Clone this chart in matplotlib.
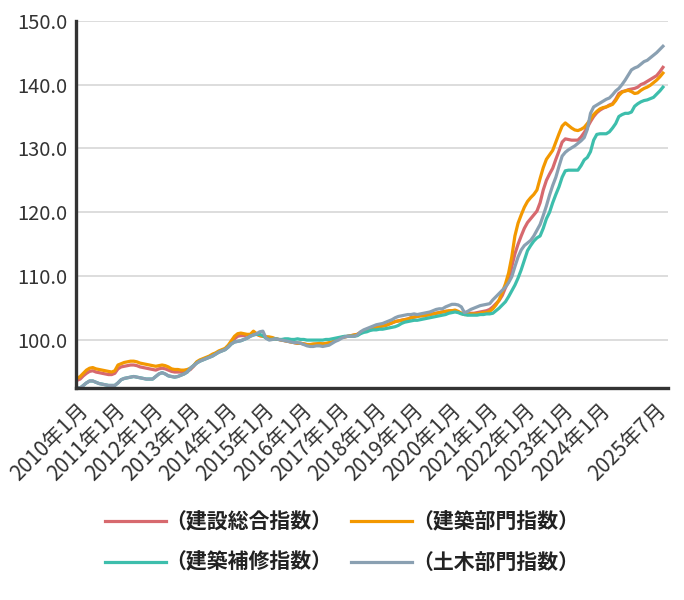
import matplotlib
matplotlib.use("Agg")
import matplotlib.pyplot as plt
from matplotlib.transforms import ScaledTranslation
import numpy as np

plt.rcParams['font.family'] = ['Noto Sans CJK JP', 'DejaVu Sans']

# monthly index values, 2010年1月 .. 2025年7月 (one row per year)
sogo = [  # 建設総合指数
    93.7, 93.9, 94.4, 94.8, 95.1, 95.2, 95.0, 94.9, 94.8, 94.7, 94.6, 94.6,
    94.8, 95.5, 95.8, 95.9, 96.0, 96.1, 96.1, 96.0, 95.8, 95.7, 95.6, 95.5,
    95.4, 95.3, 95.5, 95.6, 95.5, 95.3, 95.1, 95.0, 95.0, 95.0, 95.0, 95.1,
    95.4, 95.9, 96.5, 96.8, 97.0, 97.2, 97.4, 97.7, 97.9, 98.2, 98.4, 98.6,
    99.0, 99.6, 100.2, 100.6, 100.7, 100.7, 100.8, 100.8, 101.1, 100.9, 100.7, 100.6,
    100.5, 100.4, 100.3, 100.2, 100.1, 100.0, 99.9, 99.8, 99.7, 99.6, 99.5, 99.5,
    99.4, 99.3, 99.3, 99.3, 99.4, 99.4, 99.4, 99.4, 99.5, 99.7, 99.9, 100.2,
    100.4, 100.5, 100.6, 100.7, 100.8, 100.9, 101.2, 101.4, 101.5, 101.7, 101.9, 102.0,
    102.1, 102.2, 102.3, 102.5, 102.7, 102.9, 103.0, 103.1, 103.2, 103.3, 103.5, 103.6,
    103.7, 103.8, 103.8, 103.9, 104.0, 104.1, 104.2, 104.3, 104.4, 104.5, 104.5, 104.6,
    104.6, 104.4, 104.2, 104.0, 104.1, 104.2, 104.2, 104.3, 104.4, 104.5, 104.6, 104.8,
    105.2, 105.7, 106.2, 107.0, 108.2, 109.2, 111.5, 113.5, 115.0, 116.3, 117.5, 118.4,
    119.0, 119.6, 120.2, 121.5, 123.5, 125.0, 126.0, 126.9, 128.3, 129.6, 131.0, 131.5,
    131.4, 131.3, 131.3, 131.3, 131.8, 132.5, 133.3, 134.2, 135.0, 135.6, 136.0, 136.3,
    136.5, 136.8, 137.0, 137.7, 138.6, 138.9, 139.0, 139.2, 139.3, 139.4, 139.6, 140.0,
    140.2, 140.5, 140.8, 141.1, 141.4, 142.0, 142.7,
]
kenchiku = [  # 建築部門指数
    94.0, 94.3, 94.8, 95.3, 95.6, 95.7, 95.5, 95.4, 95.3, 95.2, 95.1, 95.0,
    95.2, 96.1, 96.3, 96.5, 96.6, 96.7, 96.7, 96.6, 96.4, 96.3, 96.2, 96.1,
    96.0, 95.9, 96.0, 96.1, 96.0, 95.8, 95.5, 95.4, 95.4, 95.3, 95.3, 95.4,
    95.6, 96.0, 96.6, 96.9, 97.1, 97.3, 97.5, 97.8, 98.0, 98.3, 98.5, 98.7,
    99.2, 99.9, 100.6, 101.0, 101.1, 101.0, 100.9, 100.9, 101.4, 101.0, 100.7, 100.6,
    100.5, 100.5, 100.4, 100.2, 100.1, 100.0, 99.9, 99.8, 99.7, 99.6, 99.5, 99.5,
    99.4, 99.3, 99.3, 99.4, 99.4, 99.5, 99.4, 99.5, 99.6, 99.7, 99.9, 100.2,
    100.4, 100.5, 100.6, 100.7, 100.8, 100.9, 101.2, 101.4, 101.6, 101.8, 101.9, 102.0,
    102.1, 102.2, 102.3, 102.5, 102.7, 102.9, 103.0, 103.1, 103.2, 103.3, 103.5, 103.6,
    103.7, 103.8, 103.8, 103.9, 104.0, 104.1, 104.2, 104.3, 104.4, 104.5, 104.6, 104.6,
    104.7, 104.5, 104.2, 104.0, 104.0, 104.1, 104.1, 104.1, 104.2, 104.3, 104.3, 104.5,
    104.9, 105.5, 106.3, 107.5, 108.8, 110.5, 113.0, 116.3, 118.3, 119.6, 120.8, 121.7,
    122.3, 122.8, 123.5, 125.3, 127.0, 128.3, 129.0, 129.7, 131.0, 132.3, 133.5, 134.0,
    133.6, 133.2, 132.9, 132.8, 133.0, 133.3, 133.9, 134.6, 135.3, 135.8, 136.2, 136.4,
    136.5, 136.7, 136.9, 137.5, 138.3, 138.8, 139.0, 139.1, 138.9, 138.6, 138.7, 139.1,
    139.4, 139.6, 139.9, 140.3, 140.7, 141.2, 141.8,
]
hoshu = [  # 建築補修指数
    92.6, 92.5, 92.9, 93.3, 93.6, 93.6, 93.4, 93.2, 93.1, 93.0, 92.9, 92.9,
    92.9, 93.3, 93.8, 94.0, 94.1, 94.2, 94.3, 94.2, 94.1, 94.0, 93.9, 93.9,
    93.9, 94.3, 94.7, 94.9, 94.7, 94.4, 94.3, 94.2, 94.3, 94.5, 94.7, 95.0,
    95.6, 96.0, 96.4, 96.7, 96.9, 97.1, 97.3, 97.5, 97.8, 98.1, 98.3, 98.5,
    98.9, 99.4, 99.7, 99.8, 99.9, 100.1, 100.3, 100.6, 100.8, 100.9, 100.9, 100.7,
    100.3, 100.1, 100.1, 100.2, 100.1, 100.1, 100.2, 100.2, 100.1, 100.1, 100.2, 100.1,
    100.1, 100.0, 100.0, 100.0, 100.0, 100.0, 100.0, 100.1, 100.1, 100.2, 100.3, 100.4,
    100.5, 100.6, 100.6, 100.6, 100.6, 100.7, 101.0, 101.2, 101.3, 101.5, 101.6, 101.6,
    101.7, 101.7, 101.8, 101.9, 102.0, 102.1, 102.3, 102.6, 102.8, 102.9, 103.0, 103.1,
    103.1, 103.2, 103.3, 103.4, 103.5, 103.6, 103.7, 103.8, 103.9, 104.0, 104.2, 104.3,
    104.4, 104.3, 104.1, 104.0, 103.9, 103.9, 103.9, 103.9, 104.0, 104.0, 104.1, 104.1,
    104.2, 104.6, 105.0, 105.5, 106.0, 106.8, 107.7, 108.6, 109.7, 111.0, 112.5, 114.0,
    114.8, 115.5, 116.0, 116.3, 117.5, 119.0, 120.0, 121.5, 122.8, 124.0, 125.5, 126.5,
    126.6, 126.6, 126.6, 126.6, 127.3, 128.2, 128.6, 129.5, 131.3, 132.2, 132.3, 132.3,
    132.3, 132.6, 133.2, 133.9, 135.0, 135.3, 135.5, 135.5, 135.7, 136.6, 137.0, 137.3,
    137.5, 137.6, 137.8, 138.0, 138.5, 139.0, 139.6,
]
doboku = [  # 土木部門指数
    92.6, 92.5, 92.9, 93.3, 93.6, 93.6, 93.4, 93.2, 93.1, 93.0, 92.9, 92.9,
    92.9, 93.3, 93.8, 94.0, 94.1, 94.2, 94.3, 94.2, 94.1, 94.0, 93.9, 93.9,
    93.9, 94.3, 94.7, 94.9, 94.7, 94.4, 94.3, 94.2, 94.3, 94.5, 94.7, 95.0,
    95.6, 96.0, 96.4, 96.7, 96.9, 97.1, 97.3, 97.5, 97.8, 98.1, 98.3, 98.5,
    98.9, 99.4, 99.7, 99.8, 99.9, 100.1, 100.3, 100.6, 100.8, 101.0, 101.3, 101.4,
    100.3, 100.0, 100.1, 100.2, 100.1, 100.0, 99.9, 99.8, 99.7, 99.6, 99.6, 99.5,
    99.3, 99.1, 99.0, 99.0, 99.1, 99.1, 99.0, 99.1, 99.2, 99.5, 99.8, 100.0,
    100.3, 100.5, 100.6, 100.6, 100.6, 100.8, 101.3, 101.6, 101.8, 102.0, 102.2, 102.4,
    102.5, 102.6, 102.8, 103.0, 103.2, 103.5, 103.7, 103.8, 103.9, 104.0, 104.0, 104.1,
    104.0, 104.1, 104.2, 104.3, 104.4, 104.6, 104.8, 104.9, 104.9, 105.2, 105.4, 105.6,
    105.6, 105.5, 105.2, 104.3, 104.5, 104.8, 105.0, 105.2, 105.4, 105.5, 105.6, 105.7,
    106.3, 106.8, 107.3, 107.8, 108.3, 109.0, 109.9, 111.5, 113.0, 114.1, 114.8, 115.2,
    115.6, 116.3, 117.2, 118.1, 119.5, 121.0, 122.7, 124.2, 125.5, 127.2, 128.8, 129.4,
    129.8, 130.1, 130.4, 130.8, 131.2, 131.7, 133.0, 135.5, 136.5, 136.8, 137.1, 137.4,
    137.7, 137.9, 138.4, 139.0, 139.4, 140.0, 140.7, 141.5, 142.3, 142.6, 142.8, 143.2,
    143.6, 143.8, 144.2, 144.6, 145.0, 145.5, 146.0,
]

tick_months = [0, 12, 24, 36, 48, 60, 72, 84, 96, 108, 120, 132, 144, 156, 168, 186]
tick_labels = ['2010年1月', '2011年1月', '2012年1月', '2013年1月', '2014年1月',
               '2015年1月', '2016年1月', '2017年1月', '2018年1月', '2019年1月',
               '2020年1月', '2021年1月', '2022年1月', '2023年1月', '2024年1月',
               '2025年7月']
yticks = [100, 110, 120, 130, 140, 150]

names = ['（建設総合指数）', '（建築部門指数）', '（建築補修指数）', '（土木部門指数）']
colors = ['#d7696e', '#f39800', '#3dbeac', '#8aa0b2']

fig = plt.figure(figsize=(6.84, 6.0), dpi=100)
ax = fig.add_axes([76/684, 1-388/600, 592/684, 367.3/600])

x = np.arange(len(sogo))
lines = []
for data, c, n in zip([sogo, kenchiku, hoshu, doboku], colors, names):
    l, = ax.plot(x, data, color=c, lw=2.3, label=n, solid_joinstyle='round')
    lines.append(l)

ax.set_xlim(-0.32, 187.6)
ax.set_ylim(92.5, 150)
ax.set_yticks(yticks)
ax.set_yticklabels(['%.1f' % v for v in yticks])
ax.set_xticks(tick_months)
ax.set_xticklabels(tick_labels, rotation=45, ha='right', va='top',
                   rotation_mode='anchor')
ax.tick_params(axis='both', length=0, colors='#333333')
ax.tick_params(axis='y', pad=6, labelsize=14.5)
ax.tick_params(axis='x', pad=8, labelsize=15)
# labels in the original sit a little left of the data ticks toward the right end
for m, t in zip(tick_months, ax.get_xticklabels()):
    t.set_transform(t.get_transform() +
                    ScaledTranslation(-0.043 * m / 100, 0, fig.dpi_scale_trans))
ax.grid(axis='y', color='#dddddd', lw=1.4)
ax.set_axisbelow(True)
for s in ['top', 'right']:
    ax.spines[s].set_visible(False)
for s in ['left', 'bottom']:
    ax.spines[s].set_linewidth(2.4)
    ax.spines[s].set_color('#333333')

order = [0, 2, 1, 3]
leg = fig.legend([lines[i] for i in order], [names[i] for i in order],
                 loc='center', bbox_to_anchor=(0.5, 1-542/600), ncol=2,
                 frameon=False, handlelength=2.9, handletextpad=0.0,
                 columnspacing=0.9, labelspacing=0.95,
                 prop={'size': 15, 'weight': 'bold'})
for t in leg.get_texts():
    t.set_color('#222222')

fig.savefig('out.png', dpi=100)
